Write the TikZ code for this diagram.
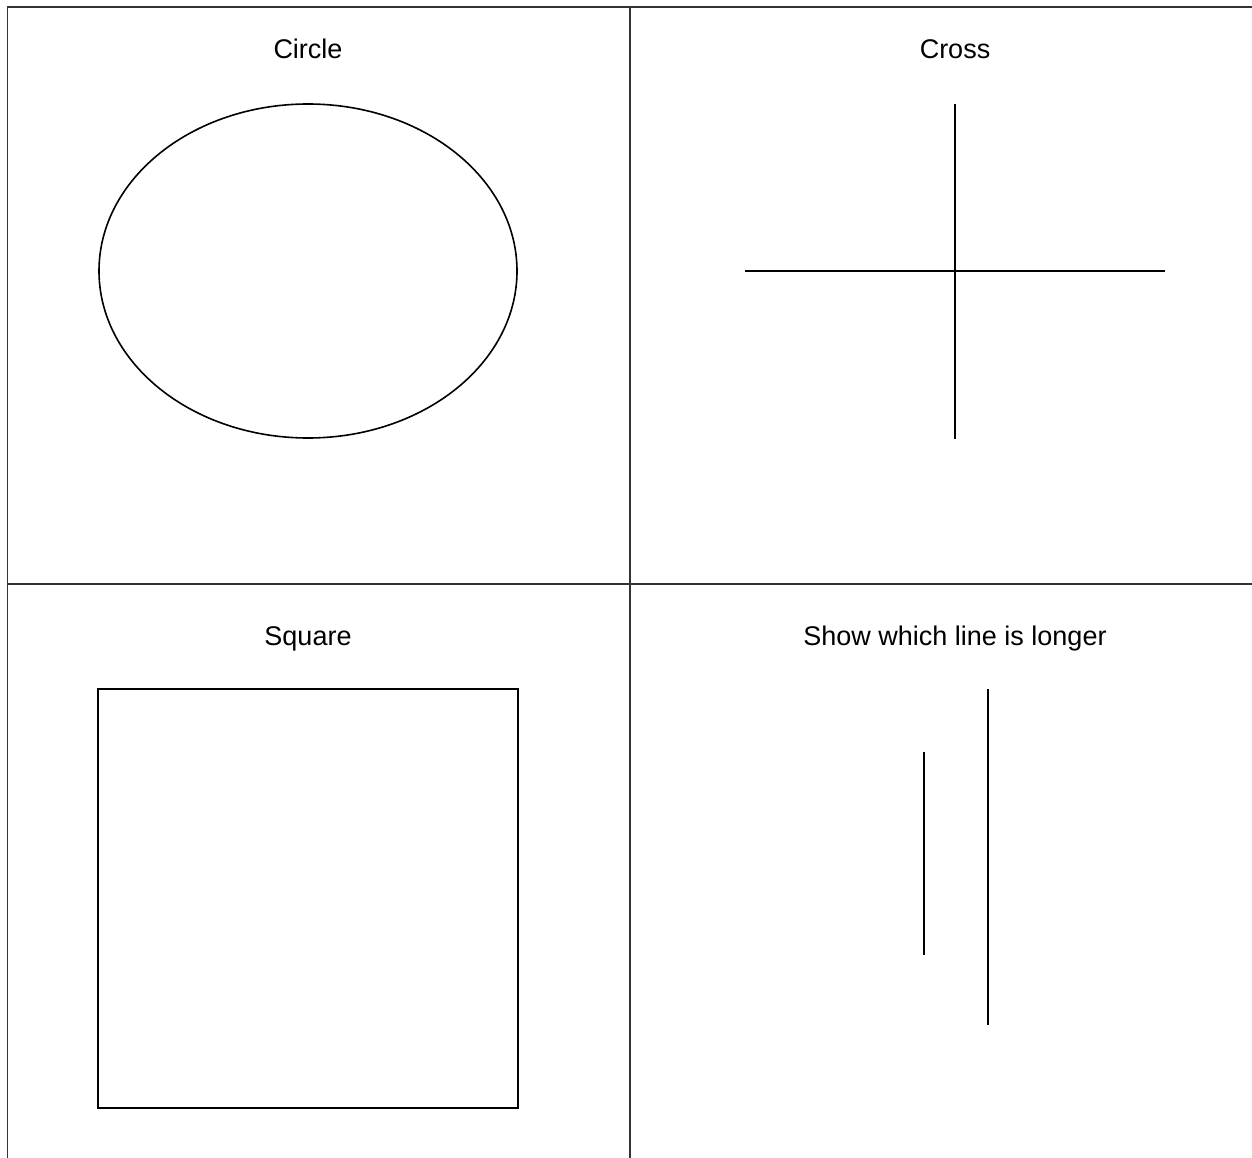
\documentclass[tikz,border=0pt]{standalone}
\usepackage{fontspec}
\setmainfont{Liberation Sans}
\begin{document}
\begin{tikzpicture}[x=1pt,y=-1pt,
  grid/.style={line width=1.3pt,black!80},
  shapeline/.style={line width=1.6pt},
  thick line/.style={line width=2.8pt},
  lbl/.style={font=\fontsize{27}{31}\selectfont, anchor=base, inner sep=0pt}]
\useasboundingbox (0,0) rectangle (1252,1158);
% grid
\draw[grid] (7.5,1158) -- (7.5,7) -- (1252,7);
\draw[grid] (630,7) -- (630,1158);
\draw[grid] (7.5,584) -- (1252,584);
% labels
\node[lbl] (t1) at (308,59) {Circle};
\node[lbl] (t2) at (955,59) {Cross};
\node[lbl] (t3) at (308,645) {Square};
\node[lbl] (t4) at (955,645) {Show which line is longer};
% circle
\draw[shapeline] (308,271) ellipse [x radius=209, y radius=167];
% cross
\draw[thick line] (955,104) -- (955,439);
\draw[thick line] (745,271) -- (1165,271);
% square
\draw[shapeline] (98,689) rectangle (518,1108);
% lines
\draw[thick line] (924,752) -- (924,955);
\draw[thick line] (988,689) -- (988,1025);
\end{tikzpicture}
\end{document}
